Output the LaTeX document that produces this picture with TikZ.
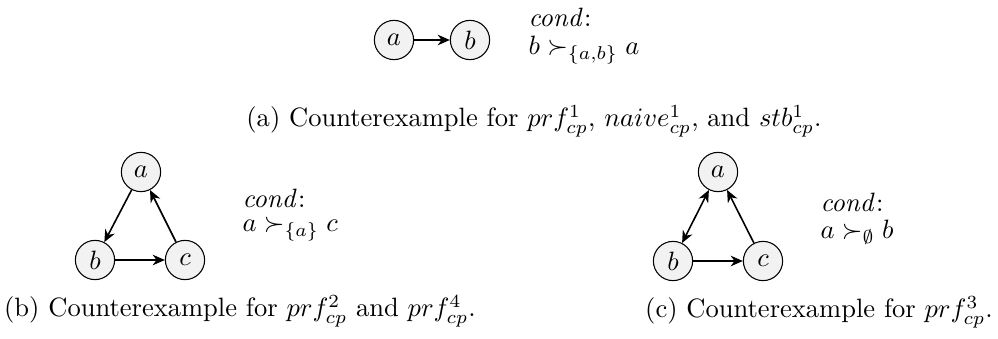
\documentclass[tikz,border=0pt]{standalone}
\usetikzlibrary{arrows.meta}
\begin{document}
\begin{tikzpicture}[x=0.377pt,y=-0.377pt,
  arg/.style={circle,draw,fill=gray!10,minimum size=14.8pt,inner sep=0pt},
  att/.style={-{Stealth[length=4.6pt,width=4pt]},line width=0.6pt},
  batt/.style={{Stealth[length=4.6pt,width=4pt]}-{Stealth[length=4.6pt,width=4pt]},line width=0.6pt},
  txt/.style={anchor=west,inner sep=0pt}]
\useasboundingbox (0,0) rectangle (998,338);
% (a)
\node[arg] (a1) at (394,40) {$a$};
\node[arg] (b1) at (470,40) {$b$};
\draw[att] (a1) -- (b1);
\node[txt] (c1) at (528,17) {$\mathit{cond}$:};
\node[txt] (d1) at (528,50) {$b \succ_{\{a,b\}} a$};
\node (cap1) at (534,121) {(a) Counterexample for $prf^1_{cp}$, $naive^1_{cp}$, and $stb^1_{cp}$.};
% (b)
\node[arg] (a2) at (141,172) {$a$};
\node[arg] (b2) at (95,260) {$b$};
\node[arg] (c2) at (185,260) {$c$};
\draw[att] (a2) -- (b2);
\draw[att] (b2) -- (c2);
\draw[att] (c2) -- (a2);
\node[txt] (e2) at (242,198) {$\mathit{cond}$:};
\node[txt] (f2) at (242,229) {$a \succ_{\{a\}} c$};
\node (cap2) at (240,311) {(b) Counterexample for $prf^2_{cp}$ and $prf^4_{cp}$.};
% (c)
\node[arg] (a3) at (718,172) {$a$};
\node[arg] (b3) at (673,261) {$b$};
\node[arg] (c3) at (763,261) {$c$};
\draw[batt] (a3) -- (b3);
\draw[att] (b3) -- (c3);
\draw[att] (c3) -- (a3);
\node[txt] (e3) at (820,202) {$\mathit{cond}$:};
\node[txt] (f3) at (820,232) {$a \succ_{\emptyset} b$};
\node (cap3) at (819,312) {(c) Counterexample for $prf^3_{cp}$.};
\end{tikzpicture}
\end{document}
